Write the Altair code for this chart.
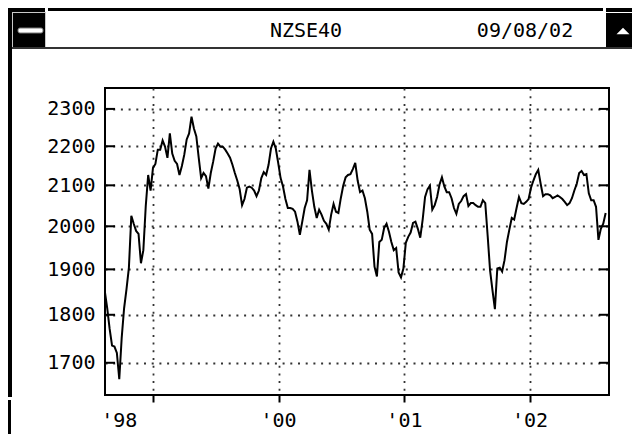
import altair as alt
import pandas as pd

# ---------------- data (weekly closes) ----------------
start_date = "1998-08-14"
nzse40 = [
    1851, 1814, 1770, 1735, 1733, 1720, 1667, 1751, 1814, 1856,
    1904, 2025, 2006, 1989, 1982, 1914, 1944, 2049, 2126, 2087,
    2144, 2154, 2191, 2191, 2215, 2199, 2170, 2234, 2181, 2162,
    2154, 2126, 2149, 2178, 2218, 2234, 2279, 2247, 2226, 2170,
    2118, 2131, 2123, 2092, 2131, 2160, 2194, 2207, 2199, 2199,
    2191, 2181, 2170, 2152, 2131, 2112, 2090, 2051, 2066, 2094,
    2097, 2094, 2087, 2073, 2087, 2118, 2133, 2126, 2152, 2194,
    2212, 2194, 2157, 2118, 2097, 2066, 2044, 2044, 2042, 2035,
    2011, 1980, 2011, 2044, 2063, 2139, 2087, 2047, 2020, 2040,
    2028, 2013, 2006, 1992, 2028, 2054, 2035, 2032, 2068, 2099,
    2120, 2126, 2128, 2141, 2157, 2112, 2083, 2087, 2068, 2035,
    1992, 1982, 1906, 1884, 1963, 1968, 1996, 2006, 1987, 1963,
    1944, 1949, 1893, 1882, 1902, 1961, 1975, 1985, 2008, 2011,
    1994, 1973, 2016, 2071, 2090, 2099, 2040, 2051, 2071, 2102,
    2120, 2097, 2083, 2083, 2068, 2044, 2030, 2054, 2061, 2073,
    2078, 2049, 2056, 2056, 2051, 2047, 2047, 2063, 2056, 1977,
    1897, 1853, 1812, 1902, 1904, 1895, 1921, 1963, 1992, 2020,
    2016, 2044, 2071, 2056, 2054, 2059, 2066, 2094, 2112, 2128,
    2139, 2104, 2073, 2078, 2078, 2075, 2068, 2071, 2075, 2071,
    2066, 2059, 2051, 2056, 2068, 2087, 2104, 2131, 2136, 2126,
    2128, 2080, 2063, 2063, 2047, 1968, 1994, 2006, 2032,
]
dates = pd.date_range(start_date, periods=len(nzse40), freq="7D").strftime("%Y-%m-%d").tolist()

y_ticks = [1700, 1800, 1900, 2000, 2100, 2200, 2300]
year_ticks = [1999, 2000, 2001, 2002]
x_label_dates = ["1998-09-25", "2000-01-01", "2001-01-01", "2002-01-01"]
x_label_text = ["'98", "'00", "'01", "'02"]
title_text = "NZSE40"
date_text = "09/08/02"

# ---------------- layout ----------------
FONT = "DejaVu Sans Mono"
W, H = 504, 307
OX, OY = 105, 88  # page position of the plot's top-left corner

df = pd.DataFrame({"date": dates, "value": nzse40})

xscale = alt.Scale(
    type="utc",
    domain=[
        alt.DateTime(year=1998, month=8, date=14, hours=12, utc=True),
        alt.DateTime(year=2002, month=8, date=18, hours=17, utc=True),
    ],
)
yscale = alt.Scale(type="log", domain=[1636, 2358], nice=False, zero=False)

x_axis = alt.Axis(
    values=[alt.DateTime(year=y, month=1, date=1, utc=True) for y in year_ticks],
    labels=False, grid=True, ticks=True, tickSize=7, tickWidth=2,
    tickColor="black", domain=False, title=None,
)
y_axis = alt.Axis(
    values=y_ticks, format="d", grid=True, ticks=False, tickSize=0, domain=False,
    labelFont=FONT, labelFontSize=20, labelColor="black", labelPadding=10,
    title=None,
)

one = alt.Data(values=[{}])


def box(x1, y1, x2, y2, color="black", **kw):
    return alt.Chart(one).mark_rect(color=color, **kw).encode(
        x=alt.value(x1 - OX), x2=alt.value(x2 - OX),
        y=alt.value(y1 - OY), y2=alt.value(y2 - OY),
    )


frame = [
    box(5, 5, 45, 12),
    box(48, 5, 603, 11),
    box(606, 5, 640, 12),
    box(5, 5, 12, 397),
    box(5, 400, 11, 442),
    box(12, 12, 46, 48, color="#c8c8c8"),
    box(13, 13, 45, 47),
    box(18, 28, 43, 33, color="white", stroke="#777", strokeWidth=1, cornerRadius=2),
    box(606, 13, 640, 47),
    box(12, 47, 640, 49, color="#333"),
    box(0, 437, 603, 442),
    box(606, 437, 640, 442),
]

tri = alt.Chart(one).mark_point(
    shape="M-1,0.5L1,0.5L0,-0.5Z", filled=True, color="white", opacity=1, size=169, strokeWidth=0
).encode(x=alt.value(623 - OX), y=alt.value(31 - OY))

title = alt.Chart(one).mark_text(
    text=title_text, font=FONT, fontSize=20, color="black", align="center", baseline="middle"
).encode(x=alt.value(306 - OX), y=alt.value(31 - OY))

date_lbl = alt.Chart(one).mark_text(
    text=date_text, font=FONT, fontSize=20, color="black", align="center", baseline="middle"
).encode(x=alt.value(525 - OX), y=alt.value(31 - OY))

line = alt.Chart(df).mark_line(color="black", strokeWidth=2, clip=True).encode(
    x=alt.X("date:T", scale=xscale, axis=x_axis),
    y=alt.Y("value:Q", scale=yscale, axis=y_axis),
)

tick_df = pd.DataFrame({"value": y_ticks})
left_ticks = alt.Chart(tick_df).mark_rule(color="black", strokeWidth=2).encode(
    y=alt.Y("value:Q", scale=yscale, axis=y_axis), x=alt.value(0), x2=alt.value(10)
)
right_ticks = alt.Chart(tick_df).mark_rule(color="black", strokeWidth=2).encode(
    y=alt.Y("value:Q", scale=yscale, axis=y_axis), x=alt.value(W - 10), x2=alt.value(W)
)

xlabels = alt.Chart(pd.DataFrame({"date": x_label_dates, "t": x_label_text})).mark_text(
    font=FONT, fontSize=20, color="black", align="center", baseline="middle"
).encode(x=alt.X("date:T", scale=xscale, axis=x_axis), y=alt.value(H + 26), text="t:N")

chart = alt.layer(
    line, left_ticks, right_ticks, xlabels, *frame, tri, title, date_lbl
).properties(
    width=W, height=H,
    padding={"left": 97, "top": 80, "right": 23, "bottom": 39},
    autosize=alt.AutoSizeParams(type="none"),
    background="white",
).configure_view(
    stroke="black", strokeWidth=2
).configure_axis(
    gridColor="#333", gridDash=[2, 5.7], gridWidth=1.8, gridOpacity=1
)

chart.save("out.html", embed_options={"renderer": "svg", "actions": False})
